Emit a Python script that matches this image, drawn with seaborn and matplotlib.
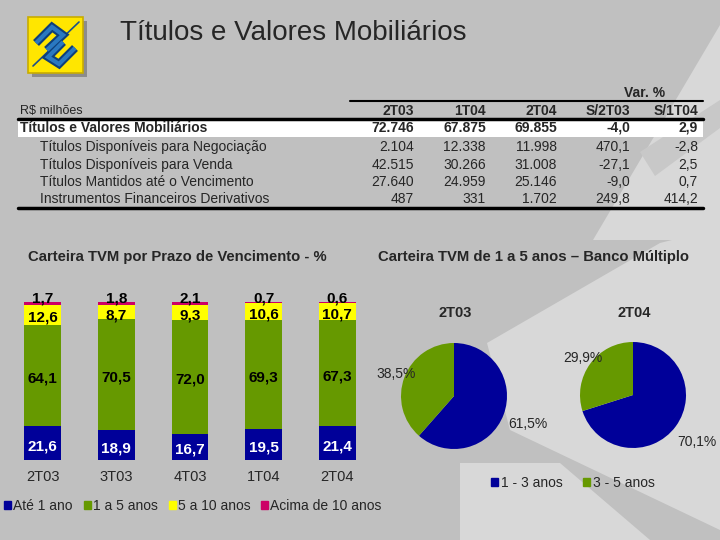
import numpy as np
import pandas as pd
import seaborn as sns
import matplotlib
matplotlib.use("Agg")
import matplotlib.pyplot as plt
from matplotlib.patches import Polygon, Rectangle, Patch

# --- dados da tabela (R$ milhoes) ---
linhas = ["Títulos e Valores Mobiliários",
          "Títulos Disponíveis para Negociação",
          "Títulos Disponíveis para Venda",
          "Títulos Mantidos até o Vencimento",
          "Instrumentos Financeiros Derivativos"]
colunas = ["2T03", "1T04", "2T04", "S/2T03", "S/1T04"]
v_2t03 = [72746, 2104, 42515, 27640, 487]
v_1t04 = [67875, 12338, 30266, 24959, 331]
v_2t04 = [69855, 11998, 31008, 25146, 1702]
var_2t03 = [-4.0, 470.1, -27.1, -9.0, 249.8]
var_1t04 = [2.9, -2.8, 2.5, 0.7, 414.2]

# --- carteira por prazo de vencimento (%) ---
periodos = ["2T03", "3T03", "4T03", "1T04", "2T04"]
faixas = ["Até 1 ano", "1 a 5 anos", "5 a 10 anos", "Acima de 10 anos"]
ate_1 = [21.6, 18.9, 16.7, 19.5, 21.4]
de_1_5 = [64.1, 70.5, 72.0, 69.3, 67.3]
de_5_10 = [12.6, 8.7, 9.3, 10.6, 10.7]
acima_10 = [1.7, 1.8, 2.1, 0.7, 0.6]
cores_faixas = ["#000099", "#669900", "#FFFF00", "#CC0066"]

# --- carteira de 1 a 5 anos ---
pizza_titulos = ["2T03", "2T04"]
pizza_faixas = ["1 - 3 anos", "3 - 5 anos"]
pizza_2t03 = [61.5, 38.5]
pizza_2t04 = [70.1, 29.9]
cores_pizza = ["#000099", "#669900"]

W, H = 720, 540
FUNDO = "#C0C0C0"
CLARO = "#D8D8D8"
FS = 10


def caixa(x0, y0, x1, y1):
    return [x0 / W, 1 - y1 / H, (x1 - x0) / W, (y1 - y0) / H]


def br_int(v):
    return f"{v:,}".replace(",", ".")


def br_dec(v):
    return f"{v:.1f}".replace(".", ",")


sns.set_style("white")
plt.rcParams['font.family'] = ['Liberation Sans', 'DejaVu Sans']

fig = plt.figure(figsize=(7.2, 5.4), dpi=100, facecolor=FUNDO)
bg = fig.add_axes([0, 0, 1, 1])
bg.set_xlim(0, W)
bg.set_ylim(H, 0)
bg.axis("off")

# faixas claras do fundo
for pts, cor in [
    ([(487, 343), (660, 243), (720, 228), (720, 530), (510, 430)], CLARO),
    ([(460, 463), (560, 463), (650, 540), (460, 540)], CLARO),
    ([(593, 240), (720, 25), (720, 240)], CLARO),
    ([(640, 152), (720, 100), (720, 128), (655, 176)], "#C8C8C8"),
]:
    bg.add_patch(Polygon(pts, closed=True, color=cor, lw=0, zorder=0))

# logo
bg.add_patch(Rectangle((32, 21), 55, 56, color="#8C8C8C", lw=0, zorder=1))
bg.add_patch(Rectangle((28, 17), 55, 56, color="#FFE600", ec="#C8AC00", lw=1.2, zorder=2))
bg.plot([33, 79], [66, 22], color="#1B4F8A", lw=1.2, zorder=3)
for trilha in [[(36, 43), (52, 27), (63, 35), (47, 50)],
               [(75, 48), (59, 64), (48, 57), (63, 42)]]:
    xs, ys = zip(*trilha)
    bg.plot(xs, ys, color="#0E3F7A", lw=6, solid_joinstyle="miter",
            solid_capstyle="butt", zorder=3)
    bg.plot(xs, ys, color="#2A78C0", lw=3, solid_joinstyle="miter",
            solid_capstyle="butt", zorder=4)

bg.text(120, 33, "Títulos e Valores Mobiliários", fontsize=20, va="center", ha="left")

# tabela
x_cols = [414, 486, 557, 630, 698]
y_rows = [128, 147, 165, 182, 199]
bg.add_patch(Rectangle((18, 121), 685, 16, color="white", lw=0, zorder=1))
bg.plot([350, 703], [101, 101], color="black", lw=1.5)
bg.plot([18, 703], [119, 119], color="black", lw=2.5)
bg.plot([18, 703], [208, 208], color="black", lw=2.5)
bg.text(20, 111, "R$ milhões", fontsize=9, va="center")
bg.text(645, 93, "Var. %", fontsize=FS, weight="bold", va="center", ha="center")
for x, c in zip(x_cols, colunas):
    bg.text(x, 111, c, fontsize=FS, weight="bold", va="center", ha="right")

tabela = [[br_int(a), br_int(b), br_int(c), br_dec(d), br_dec(e)]
          for a, b, c, d, e in zip(v_2t03, v_1t04, v_2t04, var_2t03, var_1t04)]
for i, (nome, valores) in enumerate(zip(linhas, tabela)):
    peso = "bold" if i == 0 else "normal"
    bg.text(20 if i == 0 else 40, y_rows[i], nome, fontsize=FS, weight=peso,
            va="center", zorder=3)
    for x, v in zip(x_cols, valores):
        bg.text(x, y_rows[i], v, fontsize=FS, weight=peso, va="center", ha="right", zorder=3)

# --- barras empilhadas ---
bg.text(28, 257, "Carteira TVM por Prazo de Vencimento - %", fontsize=10.7,
        weight="bold", va="center")
ax = fig.add_axes(caixa(6, 302, 374, 460))
ax.patch.set_alpha(0)
series = [ate_1, de_1_5, de_5_10, acima_10]
acum = np.cumsum(np.array(series), axis=0)
for k in range(3, -1, -1):
    df = pd.DataFrame({"periodo": periodos, "valor": acum[k]})
    sns.barplot(data=df, x="periodo", y="valor", color=cores_faixas[k],
                saturation=1, width=0.5, linewidth=0, ax=ax)
for k, s in enumerate(series):
    for j, v in enumerate(s):
        if k == 3:
            y = 102.5
        else:
            y = acum[k][j] - v / 2 - 2
        ax.text(j, y, br_dec(v), ha="center", va="center", fontsize=11,
                weight="bold", color="white" if k == 0 else "black")
ax.set_xlim(-0.5, 4.5)
ax.set_ylim(0, 100)
ax.set_xlabel("")
ax.set_ylabel("")
ax.set_yticks([])
ax.tick_params(axis="x", length=0, pad=7, labelsize=10.5)
sns.despine(ax=ax, left=True, bottom=True)

fig.legend(handles=[Patch(color=c, label=l) for c, l in zip(cores_faixas, faixas)],
           loc="center left", bbox_to_anchor=(4 / W, 1 - 506 / H), ncol=4,
           frameon=False, fontsize=10, handlelength=0.5, handleheight=0.5,
           handletextpad=0.15, columnspacing=0.8, borderaxespad=0, borderpad=0)

# --- pizzas ---
bg.text(378, 257, "Carteira TVM de 1 a 5 anos – Banco Múltiplo", fontsize=10.7,
        weight="bold", va="center")
dist_rotulo = [1.5, 1.17]
for centro, titulo, vals in [((454, 396), pizza_titulos[0], pizza_2t03),
                             ((633, 395), pizza_titulos[1], pizza_2t04)]:
    cx, cy = centro
    r = 53
    pa = fig.add_axes(caixa(cx - r, cy - r, cx + r, cy + r))
    cunhas, _ = pa.pie(vals, colors=cores_pizza, startangle=90, counterclock=False,
                       radius=1, wedgeprops=dict(lw=0))
    pa.set_xlim(-1, 1)
    pa.set_ylim(-1, 1)
    pa.set_aspect("equal")
    pa.axis("off")
    for w, v, d in zip(cunhas, vals, dist_rotulo):
        ang = np.deg2rad((w.theta1 + w.theta2) / 2)
        pa.text(d * np.cos(ang), d * np.sin(ang), br_dec(v) + "%", fontsize=10,
                ha="center", va="center")
    bg.text(cx + 1, 313, titulo, fontsize=10.5, weight="bold", ha="center", va="center")

fig.legend(handles=[Patch(color=c, label=l) for c, l in zip(cores_pizza, pizza_faixas)],
           loc="center left", bbox_to_anchor=(491 / W, 1 - 483 / H), ncol=2,
           frameon=False, fontsize=10, handlelength=0.5, handleheight=0.5,
           handletextpad=0.2, columnspacing=1.5, borderaxespad=0, borderpad=0)

fig.savefig("out.png", dpi=100, facecolor=FUNDO)
